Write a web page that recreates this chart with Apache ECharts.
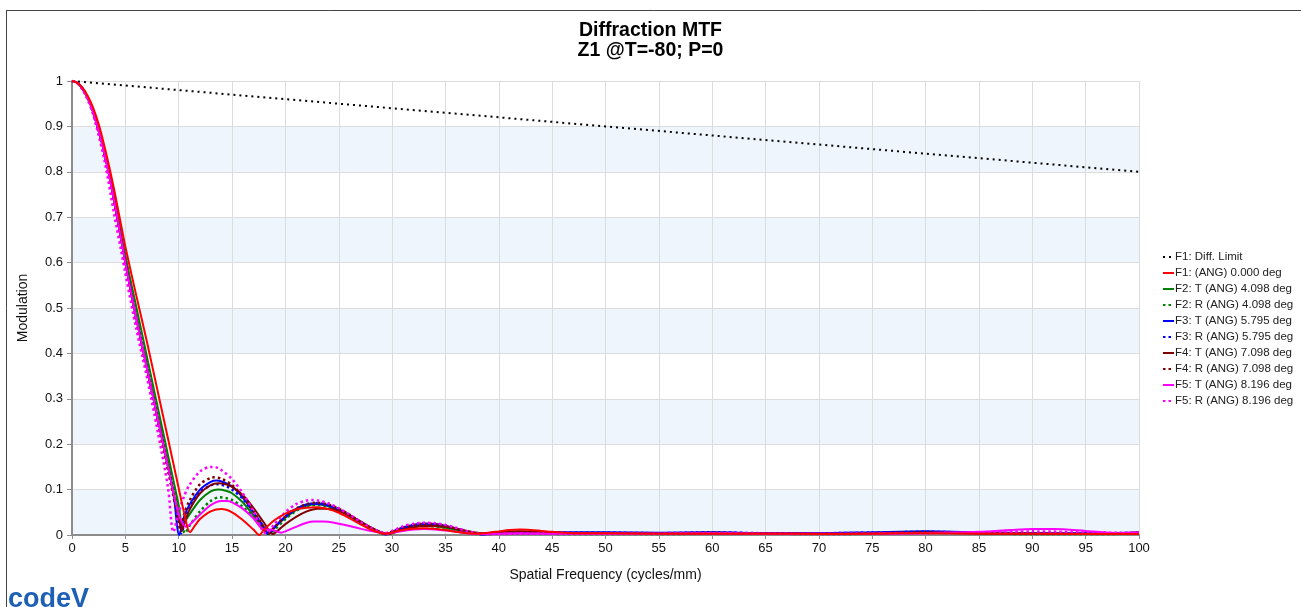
<!DOCTYPE html>
<html>
<head>
<meta charset="utf-8">
<title>Diffraction MTF</title>
<script src="https://cdn.jsdelivr.net/npm/echarts@6/dist/echarts.min.js"></script>
<style>
  html, body { margin: 0; padding: 0; background: #fff; }
  #chart { width: 1301px; height: 607px; }
</style>
</head>
<body>
<div id="chart"></div>
<script>
// Axis ticks
const xTicks = { min: 0, max: 100, interval: 5 };
const yTicks = { min: 0, max: 1, interval: 0.1 };

// Series names (legend order)
const seriesNames = [
  'F1: Diff. Limit',
  'F1: (ANG) 0.000 deg',
  'F2: T (ANG) 4.098 deg',
  'F2: R (ANG) 4.098 deg',
  'F3: T (ANG) 5.795 deg',
  'F3: R (ANG) 5.795 deg',
  'F4: T (ANG) 7.098 deg',
  'F4: R (ANG) 7.098 deg',
  'F5: T (ANG) 8.196 deg',
  'F5: R (ANG) 8.196 deg'
];

// [spatial frequency (cycles/mm), modulation]
const diffLimit = [[0,1],[10,0.98],[20,0.96],[30,0.94],[40,0.92],[50,0.90],[60,0.88],[70,0.86],[80,0.84],[90,0.82],[100,0.80]];

const f1 = [[0,1],[0.5,0.996],[1,0.985],[1.5,0.966],[2,0.94],[2.5,0.905],[3,0.86],[3.5,0.81],[4,0.755],[4.5,0.695],[5,0.635],[6,0.53],[7,0.428],[8,0.32],[9,0.212],[10,0.103],[10.5,0.05],[11.05,0.006],[11.5,0.02],[12,0.035],[13,0.052],[14,0.057],[15,0.05],[16,0.033],[17,0.012],[17.55,0.0],[18,0.012],[19,0.033],[20,0.047],[21,0.056],[22,0.06],[23,0.061],[24,0.057],[25,0.049],[26,0.037],[27,0.024],[28,0.012],[29,0.004],[29.5,0.003],[30,0.006],[31,0.011],[32,0.014],[33,0.015],[34,0.014],[35,0.011],[36,0.007],[37,0.004],[38,0.003],[39,0.005],[40,0.008],[41,0.011],[42,0.012],[43,0.011],[44,0.009],[45,0.007],[47.5,0.004],[50,0.004],[55,0.003],[60,0.003],[65,0.003],[70,0.002],[75,0.003],[80,0.004],[85,0.003],[90,0.003],[95,0.002],[100,0.002]];

const f2T = [[0,1],[0.5,0.996],[1,0.983],[1.5,0.963],[2,0.935],[3,0.85],[4,0.74],[5,0.615],[6,0.505],[7,0.395],[8,0.285],[9,0.175],[10,0.065],[10.35,0.018],[10.6,0.03],[11,0.045],[12,0.077],[13,0.096],[13.7,0.1],[14.5,0.097],[15,0.092],[16,0.072],[17,0.043],[18,0.012],[18.4,0.002],[19,0.017],[20,0.038],[21,0.055],[22,0.065],[23,0.068],[24,0.064],[25,0.055],[26,0.042],[27,0.028],[28,0.014],[29,0.004],[29.5,0.003],[30,0.007],[31,0.014],[32,0.019],[33,0.021],[34,0.02],[35,0.016],[36,0.011],[37,0.006],[38,0.003],[39,0.004],[40,0.006],[41,0.007],[42,0.007],[44,0.005],[46,0.003],[50,0.003],[55,0.002],[60,0.004],[65,0.003],[70,0.003],[75,0.004],[80,0.006],[85,0.004],[90,0.002],[95,0.002],[100,0.004]];

const f2R = [[0,1],[0.5,0.996],[1,0.983],[1.5,0.963],[2,0.935],[3,0.85],[4,0.735],[5,0.61],[6,0.495],[7,0.385],[8,0.275],[9,0.165],[10,0.055],[10.6,0.004],[11,0.02],[12,0.052],[13,0.075],[13.8,0.083],[14.5,0.081],[15,0.077],[16,0.062],[17,0.04],[18,0.016],[18.6,0.003],[19,0.012],[20,0.035],[21,0.053],[22,0.063],[23,0.066],[24,0.063],[25,0.055],[26,0.043],[27,0.029],[28,0.015],[29,0.005],[29.6,0.002],[30,0.005],[31,0.012],[32,0.018],[33,0.02],[34,0.019],[35,0.016],[36,0.011],[37,0.006],[38,0.002],[39,0.003],[40,0.005],[42,0.006],[44,0.004],[46,0.002],[50,0.002],[55,0.002],[60,0.003],[65,0.003],[70,0.002],[75,0.003],[80,0.005],[85,0.004],[90,0.002],[95,0.002],[100,0.003]];

const f3T = [[0,1],[0.5,0.996],[1,0.982],[1.5,0.961],[2,0.93],[3,0.845],[4,0.73],[5,0.6],[6,0.48],[7,0.37],[8,0.26],[9,0.15],[9.5,0.095],[10.05,0.0],[10.5,0.04],[11,0.066],[12,0.1],[13,0.117],[13.55,0.12],[14,0.118],[15,0.107],[16,0.083],[17,0.05],[18,0.015],[18.3,0.003],[19,0.018],[20,0.04],[21,0.057],[22,0.067],[23,0.069],[24,0.065],[25,0.056],[26,0.043],[27,0.029],[28,0.015],[29,0.004],[29.4,0.001],[30,0.007],[31,0.016],[32,0.022],[33,0.025],[34,0.024],[35,0.02],[36,0.014],[37,0.008],[38,0.003],[38.5,0.001],[39,0.002],[40,0.004],[42,0.006],[45,0.006],[50,0.006],[55,0.005],[60,0.006],[65,0.004],[70,0.004],[75,0.006],[80,0.008],[85,0.006],[90,0.004],[95,0.004],[100,0.005]];

const f3R = [[0,1],[0.5,0.996],[1,0.982],[1.5,0.96],[2,0.93],[3,0.843],[4,0.727],[5,0.597],[6,0.477],[7,0.366],[8,0.256],[9,0.146],[10,0.03],[10.25,0.004],[10.6,0.035],[11,0.058],[12,0.094],[13,0.109],[13.6,0.112],[14.5,0.107],[15,0.1],[16,0.08],[17,0.05],[18,0.017],[18.4,0.003],[19,0.017],[20,0.04],[21,0.057],[22,0.067],[23,0.07],[24,0.066],[25,0.057],[26,0.044],[27,0.03],[28,0.016],[29,0.005],[29.5,0.002],[30,0.007],[31,0.016],[32,0.022],[33,0.025],[34,0.024],[35,0.02],[36,0.014],[37,0.008],[38,0.003],[39,0.002],[40,0.004],[42,0.005],[45,0.005],[50,0.005],[55,0.004],[60,0.006],[65,0.004],[70,0.004],[75,0.005],[80,0.007],[85,0.005],[90,0.004],[95,0.003],[100,0.005]];

const f4T = [[0,1],[0.5,0.996],[1,0.982],[1.5,0.961],[2,0.93],[3,0.845],[4,0.73],[5,0.6],[6,0.481],[7,0.371],[8,0.262],[9,0.152],[10,0.04],[10.3,0.01],[10.6,0.03],[11,0.055],[12,0.092],[13,0.11],[13.7,0.114],[14.5,0.111],[15,0.106],[16,0.088],[17,0.06],[18,0.027],[18.8,0.002],[19.5,0.014],[20,0.024],[21,0.04],[22,0.052],[23,0.058],[24,0.058],[25,0.053],[26,0.043],[27,0.03],[28,0.017],[29,0.006],[29.7,0.002],[30,0.004],[31,0.011],[32,0.017],[33,0.02],[34,0.02],[35,0.018],[36,0.014],[37,0.009],[38,0.005],[39,0.003],[40,0.005],[42,0.008],[44,0.007],[46,0.004],[50,0.003],[55,0.002],[60,0.003],[65,0.003],[70,0.002],[75,0.003],[80,0.005],[85,0.004],[90,0.003],[95,0.002],[100,0.006]];

const f4R = [[0,1],[0.5,0.996],[1,0.982],[1.5,0.959],[2,0.928],[3,0.842],[4,0.725],[5,0.595],[6,0.475],[7,0.364],[8,0.253],[9,0.142],[10,0.03],[10.2,0.008],[10.5,0.045],[11,0.075],[12,0.112],[13,0.126],[13.3,0.127],[14,0.124],[15,0.11],[16,0.085],[17,0.052],[18,0.017],[18.4,0.003],[19,0.018],[20,0.041],[21,0.058],[22,0.068],[23,0.071],[24,0.067],[25,0.058],[26,0.045],[27,0.03],[28,0.016],[29,0.005],[29.5,0.002],[30,0.007],[31,0.016],[32,0.022],[33,0.025],[34,0.024],[35,0.02],[36,0.014],[37,0.008],[38,0.003],[39,0.002],[40,0.003],[42,0.004],[45,0.004],[50,0.004],[55,0.003],[60,0.005],[65,0.003],[70,0.003],[75,0.004],[80,0.006],[85,0.004],[90,0.003],[95,0.003],[100,0.004]];

const f5T = [[0,1],[0.5,0.996],[1,0.982],[1.5,0.961],[2,0.93],[3,0.845],[4,0.73],[5,0.6],[6,0.48],[7,0.37],[8,0.26],[9,0.15],[10,0.045],[10.7,0.018],[11,0.022],[12,0.045],[13,0.066],[14,0.075],[14.5,0.075],[15,0.072],[16,0.058],[17,0.037],[18,0.012],[18.6,0.012],[19.6,0.005],[20,0.008],[21,0.018],[22,0.027],[22.6,0.03],[23.5,0.03],[24,0.029],[25,0.025],[26,0.02],[27,0.014],[28,0.009],[29,0.005],[29.6,0.003],[30,0.005],[31,0.009],[32,0.012],[33,0.013],[34,0.012],[35,0.01],[36,0.007],[37,0.004],[38,0.002],[40,0.003],[42,0.004],[45,0.003],[50,0.003],[55,0.003],[60,0.004],[65,0.003],[70,0.003],[75,0.003],[80,0.004],[85,0.007],[88,0.011],[90,0.013],[92,0.013],[95,0.009],[98,0.004],[100,0.006]];

const f5R = [[0,1],[0.5,0.995],[1,0.98],[1.5,0.957],[2,0.925],[3,0.83],[4,0.70],[4.59,0.628],[5,0.576],[6,0.457],[7,0.35],[8,0.232],[9,0.104],[9.5,0.007],[10,0.05],[10.5,0.085],[11,0.11],[12,0.14],[13,0.15],[13.5,0.149],[14,0.143],[15,0.123],[16,0.092],[17,0.052],[17.9,0.008],[18.2,0.004],[19,0.025],[20,0.05],[21,0.068],[22,0.076],[22.5,0.077],[23,0.076],[24,0.07],[25,0.059],[26,0.045],[27,0.03],[28,0.016],[29,0.006],[29.3,0.004],[30,0.009],[31,0.019],[32,0.025],[33,0.027],[34,0.026],[35,0.022],[36,0.016],[37,0.009],[38,0.004],[38.9,0.002],[40,0.002],[42,0.003],[45,0.003],[50,0.003],[55,0.003],[60,0.004],[65,0.003],[70,0.002],[75,0.003],[80,0.004],[85,0.005],[90,0.008],[95,0.006],[100,0.004]];

const seriesData = [diffLimit, f1, f2T, f2R, f3T, f3R, f4T, f4R, f5T, f5R];
const seriesColors = ['#000000', '#ff0000', '#008000', '#008000', '#0000ff', '#0000ff', '#800000', '#800000', '#ff00ff', '#ff00ff'];
const seriesDotted = [true, false, false, true, false, true, false, true, false, true];

const FONT = 'Liberation Sans, Arial, sans-serif';

const series = seriesNames.map((name, i) => ({
  name: name,
  type: 'line',
  data: seriesData[i],
  showSymbol: false,
  symbol: 'none',
  smooth: i === 0 ? false : 0.3,
  z: i === 1 ? 5 : (i === 0 ? 1 : 2),
  color: seriesColors[i],
  lineStyle: {
    color: seriesColors[i],
    width: i === 0 ? 2 : (seriesDotted[i] ? 2.5 : 2),
    type: i === 0 ? [2, 4] : (seriesDotted[i] ? [2.5, 3] : 'solid'),
    cap: 'butt'
  },
  emphasis: { disabled: true },
  animation: false
}));

const chart = echarts.init(document.getElementById('chart'), null, { renderer: 'canvas' });
chart.setOption({
  backgroundColor: '#ffffff',
  animation: false,
  title: {
    text: 'Diffraction MTF\nZ1 @T=-80; P=0',
    left: 'center',
    top: 16,
    textStyle: { fontFamily: FONT, fontSize: 19.5, fontWeight: 'bold', color: '#000', lineHeight: 20 }
  },
  legend: {
    data: seriesNames,
    orient: 'vertical',
    left: 1157,
    top: 246,
    itemWidth: 11,
    itemHeight: 8,
    itemGap: 4,
    itemStyle: { opacity: 0 },
    textStyle: { fontFamily: FONT, fontSize: 11.5, color: '#222', padding: [0, 0, 0, -4] },
    selectedMode: false
  },
  grid: { left: 72, right: 162, top: 81, bottom: 72, containLabel: false },
  xAxis: {
    type: 'value',
    min: xTicks.min,
    max: xTicks.max,
    interval: xTicks.interval,
    name: 'Spatial Frequency (cycles/mm)',
    nameLocation: 'middle',
    nameGap: 33,
    nameTextStyle: { fontFamily: FONT, fontSize: 14, color: '#111' },
    axisLine: { show: true, lineStyle: { color: '#8c8c8c', width: 2 } },
    axisTick: { show: true, length: 4, lineStyle: { color: '#8c8c8c' } },
    axisLabel: { fontFamily: FONT, fontSize: 13, color: '#111', margin: 7 },
    splitLine: { show: true, lineStyle: { color: '#dcdcdc', width: 1 } }
  },
  yAxis: {
    type: 'value',
    min: yTicks.min,
    max: yTicks.max,
    interval: yTicks.interval,
    name: 'Modulation',
    nameLocation: 'middle',
    nameGap: 42,
    nameTextStyle: { fontFamily: FONT, fontSize: 14, color: '#111' },
    axisLine: { show: true, lineStyle: { color: '#8c8c8c', width: 2 } },
    axisTick: { show: true, length: 5, lineStyle: { color: '#8c8c8c' } },
    axisLabel: { fontFamily: FONT, fontSize: 13, color: '#111', margin: 9 },
    splitLine: { show: true, lineStyle: { color: '#dcdcdc', width: 1 } },
    splitArea: { show: true, areaStyle: { color: ['#eef5fd', '#ffffff'] } }
  },
  graphic: [
    { type: 'line', shape: { x1: 6, y1: 10.5, x2: 1301, y2: 10.5 }, style: { stroke: '#444', lineWidth: 1 } },
    { type: 'line', shape: { x1: 6.5, y1: 10, x2: 6.5, y2: 607 }, style: { stroke: '#444', lineWidth: 1 } },
    { type: 'text', left: 8, top: 586, style: { text: 'codeV', fill: '#1d5fb5', font: 'bold 27px ' + FONT } }
  ],
  series: series
});
</script>
</body>
</html>
